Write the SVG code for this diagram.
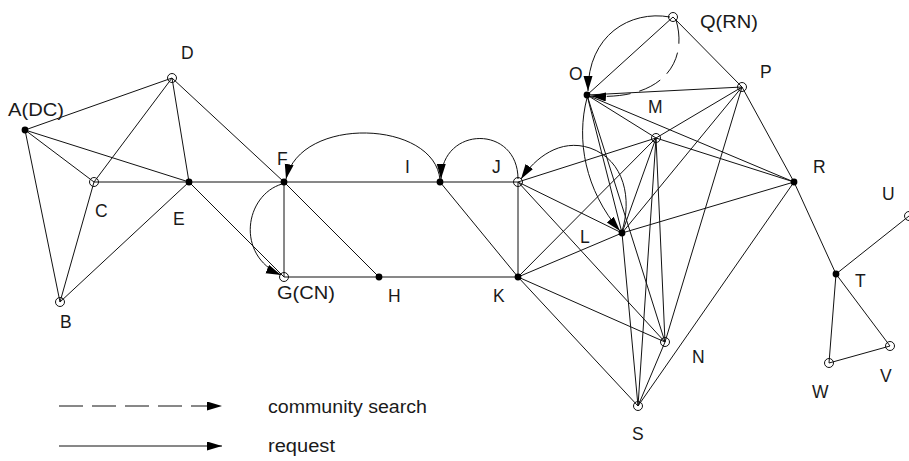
<svg xmlns="http://www.w3.org/2000/svg" width="909" height="461" viewBox="0 0 909 461">
<defs>
<style>
.e{stroke:#111;stroke-width:1;fill:none}
.c{stroke:#111;stroke-width:1;fill:none}
.d{stroke:#111;stroke-width:1;fill:none;stroke-dasharray:24 9}
.fn{fill:#000}
.on{fill:none;stroke:#111;stroke-width:1}
text{font-family:"Liberation Sans",Arial,Helvetica,sans-serif;font-size:17.5px;fill:#1a1a1a}
</style>
<marker id="ah" markerUnits="userSpaceOnUse" markerWidth="16" markerHeight="10" refX="15" refY="4.5" orient="auto">
<path d="M0,0 L15,4.5 L0,9 z" fill="#000"/>
</marker>
</defs>
<rect width="909" height="461" fill="#fff"/>
<g id="connectors">
<line class="e" x1="25" y1="130" x2="172" y2="78"/>
<line class="e" x1="25" y1="130" x2="94" y2="182"/>
<line class="e" x1="25" y1="130" x2="189" y2="182"/>
<line class="e" x1="25" y1="130" x2="60" y2="302"/>
<line class="e" x1="172" y1="78" x2="94" y2="182"/>
<line class="e" x1="172" y1="78" x2="189" y2="182"/>
<line class="e" x1="172" y1="78" x2="284" y2="182"/>
<line class="e" x1="94" y1="182" x2="189" y2="182"/>
<line class="e" x1="60" y1="302" x2="94" y2="182"/>
<line class="e" x1="60" y1="302" x2="189" y2="182"/>
<line class="e" x1="189" y1="182" x2="284" y2="182"/>
<line class="e" x1="189" y1="182" x2="284" y2="277"/>
<line class="e" x1="284" y1="182" x2="284" y2="277"/>
<line class="e" x1="284" y1="182" x2="440" y2="182"/>
<line class="e" x1="284" y1="182" x2="379" y2="277"/>
<line class="e" x1="284" y1="277" x2="379" y2="277"/>
<line class="e" x1="379" y1="277" x2="518" y2="277"/>
<line class="e" x1="440" y1="182" x2="518" y2="182"/>
<line class="e" x1="440" y1="182" x2="518" y2="277"/>
<line class="e" x1="518" y1="182" x2="518" y2="277"/>
<line class="e" x1="518" y1="182" x2="656" y2="138"/>
<line class="e" x1="518" y1="182" x2="622" y2="233"/>
<line class="e" x1="518" y1="182" x2="665" y2="342"/>
<line class="e" x1="518" y1="277" x2="656" y2="138"/>
<line class="e" x1="518" y1="277" x2="622" y2="233"/>
<line class="e" x1="518" y1="277" x2="665" y2="342"/>
<line class="e" x1="518" y1="277" x2="638" y2="406"/>
<line class="e" x1="622" y1="233" x2="794" y2="182"/>
<line class="e" x1="587" y1="95" x2="673" y2="17"/>
<line class="e" x1="587" y1="95" x2="742" y2="87"/>
<line class="e" x1="587" y1="95" x2="656" y2="138"/>
<line class="e" x1="587" y1="95" x2="794" y2="182"/>
<line class="e" x1="587" y1="95" x2="622" y2="233"/>
<line class="e" x1="587" y1="95" x2="665" y2="342"/>
<line class="e" x1="673" y1="17" x2="742" y2="87"/>
<line class="e" x1="742" y1="87" x2="656" y2="138"/>
<line class="e" x1="742" y1="87" x2="622" y2="233"/>
<line class="e" x1="742" y1="87" x2="665" y2="342"/>
<line class="e" x1="742" y1="87" x2="794" y2="182"/>
<line class="e" x1="656" y1="138" x2="794" y2="182"/>
<line class="e" x1="656" y1="138" x2="622" y2="233"/>
<line class="e" x1="656" y1="138" x2="638" y2="406"/>
<line class="e" x1="656" y1="138" x2="665" y2="342"/>
<line class="e" x1="622" y1="233" x2="638" y2="406"/>
<line class="e" x1="665" y1="342" x2="638" y2="406"/>
<line class="e" x1="794" y1="182" x2="638" y2="406"/>
<line class="e" x1="794" y1="182" x2="836" y2="274"/>
<line class="e" x1="836" y1="274" x2="909" y2="216"/>
<line class="e" x1="836" y1="274" x2="890" y2="346"/>
<line class="e" x1="836" y1="274" x2="829" y2="363"/>
<line class="e" x1="829" y1="363" x2="890" y2="346"/>
<path class="c" d="M440,180 C435,120 300,115 286,179" marker-end="url(#ah)"/>
<path class="c" d="M518,179 C518,125 442,125 441,179" marker-end="url(#ah)"/>
<path class="c" d="M622,231 C632,200 625,160 590,148 C560,138 535,158 521,179" marker-end="url(#ah)"/>
<path class="c" d="M282,184 C245,195 235,255 281,275" marker-end="url(#ah)"/>
<path class="c" d="M587,98 C576,140 585,190 620,231" marker-end="url(#ah)"/>
<path class="c" d="M670,17 C630,10 588,35 588,91" marker-end="url(#ah)"/>
<path class="d" d="M676,20 C688,60 665,101 591,96" marker-end="url(#ah)"/>
<line class="d" x1="59" y1="406" x2="222" y2="406" marker-end="url(#ah)"/>
<line class="e" x1="59" y1="446" x2="222" y2="446" marker-end="url(#ah)"/>
</g>
<g id="nA"><circle class="fn" cx="25" cy="130" r="3.4"/><text x="8" y="116" textLength="56" lengthAdjust="spacingAndGlyphs">A(DC)</text></g>
<g id="nB"><circle class="on" cx="60" cy="302" r="4.5"/><text x="60" y="328">B</text></g>
<g id="nC"><circle class="on" cx="94" cy="182" r="4.5"/><text x="95" y="217">C</text></g>
<g id="nD"><circle class="on" cx="172" cy="78" r="4.5"/><text x="181" y="59">D</text></g>
<g id="nE"><circle class="fn" cx="189" cy="182" r="3.4"/><text x="173" y="225">E</text></g>
<g id="nF"><circle class="fn" cx="284" cy="182" r="3.4"/><text x="277" y="165">F</text></g>
<g id="nG"><circle class="on" cx="284" cy="277" r="4.5"/><text x="277" y="299" textLength="58" lengthAdjust="spacingAndGlyphs">G(CN)</text></g>
<g id="nH"><circle class="fn" cx="379" cy="277" r="3.4"/><text x="388" y="302">H</text></g>
<g id="nI"><circle class="fn" cx="440" cy="182" r="3.4"/><text x="405" y="173">I</text></g>
<g id="nJ"><circle class="on" cx="518" cy="182" r="4.5"/><text x="492" y="173">J</text></g>
<g id="nK"><circle class="fn" cx="518" cy="277" r="3.4"/><text x="493" y="302">K</text></g>
<g id="nL"><circle class="fn" cx="622" cy="233" r="3.4"/><text x="580" y="243">L</text></g>
<g id="nM"><circle class="on" cx="656" cy="138" r="4.5"/><text x="648" y="113">M</text></g>
<g id="nN"><circle class="on" cx="665" cy="342" r="4.5"/><text x="692" y="363">N</text></g>
<g id="nO"><circle class="fn" cx="587" cy="95" r="3.4"/><text x="569" y="80">O</text></g>
<g id="nP"><circle class="on" cx="742" cy="87" r="4.5"/><text x="760" y="78">P</text></g>
<g id="nQ"><circle class="on" cx="673" cy="17" r="4.5"/><text x="700" y="28" textLength="58" lengthAdjust="spacingAndGlyphs">Q(RN)</text></g>
<g id="nR"><circle class="fn" cx="794" cy="182" r="3.4"/><text x="813" y="173">R</text></g>
<g id="nS"><circle class="on" cx="638" cy="406" r="4.5"/><text x="632" y="440">S</text></g>
<g id="nT"><circle class="fn" cx="836" cy="274" r="3.4"/><text x="855" y="287">T</text></g>
<g id="nU"><circle class="on" cx="909" cy="216" r="4.5"/><text x="882" y="200">U</text></g>
<g id="nV"><circle class="on" cx="890" cy="346" r="4.5"/><text x="880" y="382">V</text></g>
<g id="nW"><circle class="on" cx="829" cy="363" r="4.5"/><text x="812" y="398">W</text></g>
<g id="legend">
<text x="268" y="413" textLength="159" lengthAdjust="spacingAndGlyphs">community search</text>
<text x="268" y="452" textLength="67" lengthAdjust="spacingAndGlyphs">request</text>
</g>
</svg>
